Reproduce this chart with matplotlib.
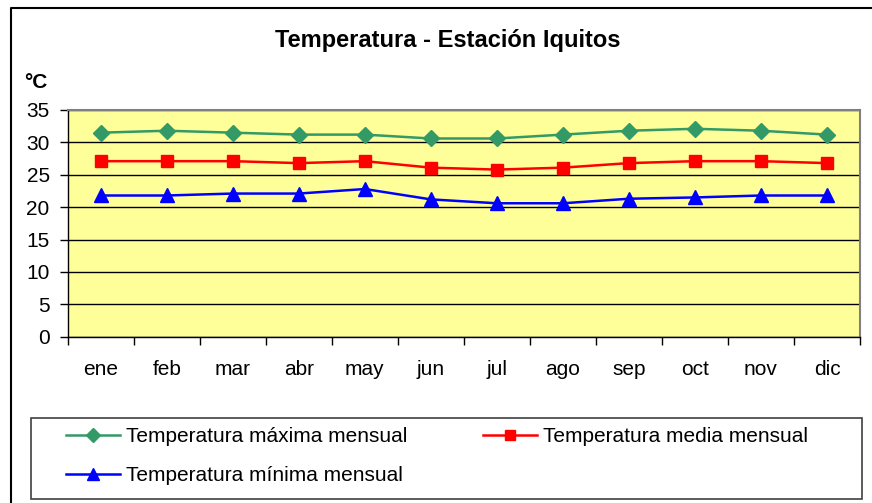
import matplotlib.pyplot as plt
from matplotlib.lines import Line2D
from matplotlib.patches import Rectangle

plt.rcParams['font.family'] = ['Liberation Sans', 'DejaVu Sans']

meses = ["ene", "feb", "mar", "abr", "may", "jun", "jul", "ago", "sep", "oct", "nov", "dic"]
t_max = [31.5, 31.8, 31.5, 31.2, 31.2, 30.6, 30.6, 31.2, 31.8, 32.1, 31.8, 31.2]
t_media = [27.1, 27.1, 27.1, 26.8, 27.1, 26.1, 25.8, 26.1, 26.8, 27.1, 27.1, 26.8]
t_min = [21.8, 21.8, 22.1, 22.1, 22.8, 21.2, 20.6, 20.6, 21.3, 21.5, 21.8, 21.8]

W, H = 872, 503
fig = plt.figure(figsize=(W / 100, H / 100), dpi=100)

# plot area in pixel coords
left, right, top, bottom = 67.7, 860, 110, 336.7
ax = fig.add_axes([left / W, 1 - bottom / H, (right - left) / W, (bottom - top) / H])
ax.set_facecolor("#FFFF99")

x = list(range(len(meses)))
l1, = ax.plot(x, t_max, color="#339966", marker="D", markersize=8, lw=1.8)
l2, = ax.plot(x, t_media, color="#FF0000", marker="s", markersize=8.5, lw=1.8)
l3, = ax.plot(x, t_min, color="#0000FF", marker="^", markersize=10, lw=1.8)

ax.set_xlim(-0.5, 11.5)
ax.set_ylim(0, 35)
ax.set_yticks(range(0, 36, 5))
ax.set_xticks([i - 0.5 for i in range(13)])
ax.set_xticklabels([])
ax.set_xticks(x, minor=True)
ax.set_xticklabels(meses, minor=True)
ax.tick_params(axis="x", which="minor", length=0, pad=17, labelsize=15)
ax.tick_params(axis="x", which="major", length=6, width=1, direction="out")
ax.tick_params(axis="y", length=6, width=1, direction="out", pad=7, labelsize=15)
ax.yaxis.grid(True, color="black", lw=1)
ax.set_axisbelow(True)
for s in ["top", "right"]:
    ax.spines[s].set_color("#808080")
    ax.spines[s].set_linewidth(1.5)
for s in ["left", "bottom"]:
    ax.spines[s].set_color("black")
    ax.spines[s].set_linewidth(1)

fig.text(448 / W, 1 - 41 / H, "Temperatura - Estación Iquitos", ha="center", va="center",
         fontsize=17, fontweight="bold")
fig.text(24 / W, 1 - 83 / H, "°C", ha="left", va="center", fontsize=15, fontweight="bold")

# outer chart frame (cropped at right and bottom)
fig.add_artist(Line2D([11 / W, 11 / W, 1], [0, 1 - 8 / H, 1 - 8 / H], color="black", lw=1.5,
                      transform=fig.transFigure))

# legend box
fig.add_artist(Rectangle((31 / W, 1 - 499 / H), (862 - 31) / W, (499 - 418) / H,
                         transform=fig.transFigure, fill=False, edgecolor="#404040", lw=1.2))
fig.legend([l1, l3, l2],
           ["Temperatura máxima mensual", "Temperatura mínima mensual", "Temperatura media mensual"],
           loc="center", bbox_to_anchor=(437 / W, 1 - 456 / H), ncol=2, frameon=False,
           fontsize=15, handlelength=2.6, handletextpad=0.3, columnspacing=3.6,
           labelspacing=0.95, markerscale=0.85)

fig.savefig("out.png", dpi=100)
